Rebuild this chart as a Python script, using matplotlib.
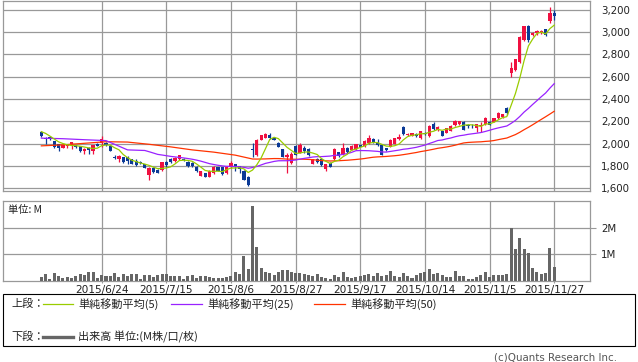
import numpy as np
import pandas as pd
import matplotlib
matplotlib.use("Agg")
import matplotlib.pyplot as plt
from matplotlib.patches import Rectangle
from matplotlib.lines import Line2D

plt.rcParams["font.family"] = ["DejaVu Sans", "Noto Sans CJK JP"]
JP = ["Noto Sans CJK JP", "DejaVu Sans"]

# Trading days (TSE, Jun-Nov 2015)
holidays = ["2015-07-20", "2015-09-21", "2015-09-22", "2015-09-23",
            "2015-10-12", "2015-11-03", "2015-11-23"]
tick_dates = ["2015-06-24", "2015-07-15", "2015-08-06", "2015-08-27",
              "2015-09-17", "2015-10-14", "2015-11-05", "2015-11-27"]

opens = [2105, 2055, 2057, 2025, 1995, 1965, 1978, 1990, 1985, 1976,
         1938, 1962, 1938, 2000, 2006, 2006, 1982, 1880, 1862, 1880,
         1884, 1862, 1850, 1840, 1818, 1720, 1782, 1762, 1762, 1838,
         1866, 1845, 1860, 1865, 1840, 1832, 1788, 1714, 1737, 1706,
         1738, 1790, 1790, 1737, 1795, 1818, 1800, 1760, 1706, 1950,
         1900, 2035, 2055, 2080, 2050, 2010, 1950, 1880, 1828, 1980,
         1920, 1965, 1955, 1822, 1866, 1866, 1771, 1830, 1860, 1925,
         1905, 1965, 1944, 1950, 1985, 1980, 2005, 2042, 2012, 1990,
         1958, 1975, 2000, 2045, 2150, 2075, 2070, 2090, 2050, 2100,
         2065, 2175, 2120, 2110, 2100, 2115, 2168, 2175, 2195, 2165,
         2162, 2138, 2155, 2176, 2197, 2197, 2227, 2236, 2316, 2635,
         2660, 2734, 2927, 3053, 2972, 2987, 2990, 3023, 3100, 3172]
highs = [2110, 2062, 2068, 2028, 2000, 1995, 2000, 2018, 1990, 1980,
         1960, 1975, 1990, 2003, 2065, 2020, 1985, 1895, 1895, 1885,
         1893, 1866, 1860, 1845, 1822, 1790, 1790, 1770, 1840, 1850,
         1870, 1880, 1900, 1870, 1845, 1840, 1800, 1756, 1740, 1765,
         1800, 1795, 1795, 1798, 1845, 1822, 1805, 1765, 1710, 2010,
         2040, 2082, 2095, 2100, 2055, 2015, 1955, 1920, 1930, 1985,
         2010, 1980, 1960, 1866, 1872, 1870, 1820, 1835, 1960, 1930,
         2003, 1968, 1985, 2000, 1990, 2030, 2080, 2050, 2040, 1998,
         1965, 2040, 2055, 2085, 2160, 2095, 2098, 2095, 2115, 2105,
         2165, 2195, 2155, 2115, 2145, 2165, 2215, 2205, 2200, 2175,
         2172, 2178, 2197, 2240, 2205, 2232, 2282, 2270, 2331, 2734,
         2760, 2960, 3055, 3060, 2995, 3015, 3015, 3030, 3225, 3196]
lows = [2062, 2000, 2030, 1965, 1938, 1960, 1965, 1950, 1962, 1928,
        1905, 1908, 1905, 1978, 1975, 1978, 1935, 1860, 1836, 1830,
        1820, 1815, 1805, 1815, 1780, 1672, 1740, 1735, 1758, 1790,
        1825, 1835, 1855, 1850, 1792, 1790, 1745, 1708, 1700, 1700,
        1730, 1755, 1725, 1732, 1785, 1755, 1742, 1675, 1625, 1880,
        1890, 2030, 2050, 2040, 2030, 1970, 1880, 1740, 1820, 1895,
        1915, 1920, 1890, 1815, 1830, 1800, 1756, 1790, 1855, 1885,
        1900, 1920, 1940, 1945, 1970, 1975, 2000, 2005, 1978, 1895,
        1935, 1968, 1995, 2030, 2080, 2068, 2065, 2060, 2045, 2075,
        2060, 2125, 2115, 2065, 2095, 2110, 2160, 2170, 2120, 2145,
        2140, 2108, 2108, 2170, 2165, 2192, 2222, 2232, 2257, 2600,
        2650, 2725, 2920, 2910, 2960, 2975, 2980, 2965, 3076, 3106]
closes = [2065, 2040, 2045, 1975, 1960, 1990, 1985, 2012, 1968, 1932,
          1955, 1948, 1985, 1982, 2045, 1985, 1938, 1870, 1892, 1833,
          1845, 1822, 1810, 1828, 1785, 1786, 1745, 1742, 1838, 1808,
          1835, 1872, 1895, 1855, 1797, 1797, 1755, 1752, 1706, 1760,
          1795, 1760, 1732, 1795, 1832, 1797, 1772, 1680, 1635, 1940,
          2035, 2078, 2090, 2050, 2035, 1975, 1885, 1895, 1912, 1900,
          1990, 1935, 1895, 1862, 1837, 1807, 1816, 1795, 1955, 1890,
          1965, 1926, 1980, 1995, 1975, 2024, 2048, 2018, 1985, 1900,
          1944, 2035, 2048, 2060, 2088, 2090, 2092, 2068, 2110, 2085,
          2160, 2135, 2150, 2070, 2140, 2160, 2205, 2200, 2125, 2158,
          2155, 2174, 2165, 2227, 2168, 2227, 2278, 2266, 2272, 2674,
          2755, 2957, 3053, 2927, 2987, 3011, 3010, 2972, 3166, 3142]
# volume, millions of shares
volumes = [0.15, 0.27, 0.08, 0.31, 0.19, 0.12, 0.15, 0.12, 0.19, 0.27,
           0.23, 0.35, 0.35, 0.12, 0.23, 0.19, 0.19, 0.31, 0.15, 0.27,
           0.19, 0.27, 0.27, 0.08, 0.23, 0.23, 0.15, 0.23, 0.27, 0.27,
           0.19, 0.19, 0.19, 0.08, 0.19, 0.23, 0.12, 0.19, 0.19, 0.15,
           0.12, 0.12, 0.12, 0.15, 0.19, 0.35, 0.27, 0.92, 0.46, 2.80,
           1.27, 0.50, 0.35, 0.31, 0.23, 0.35, 0.42, 0.42, 0.35, 0.31,
           0.31, 0.27, 0.23, 0.19, 0.27, 0.15, 0.12, 0.08, 0.23, 0.15,
           0.35, 0.15, 0.12, 0.15, 0.19, 0.23, 0.27, 0.19, 0.31, 0.19,
           0.23, 0.38, 0.19, 0.15, 0.31, 0.19, 0.12, 0.23, 0.31, 0.35,
           0.46, 0.27, 0.31, 0.23, 0.15, 0.15, 0.38, 0.19, 0.19, 0.08,
           0.08, 0.15, 0.23, 0.35, 0.15, 0.23, 0.23, 0.23, 0.27, 2.00,
           1.19, 1.62, 1.19, 1.04, 0.50, 0.35, 0.27, 0.31, 1.23, 0.54]

# moving-average values before the window is full
ma5_early = [2108, 2092, 2068, 2042]
ma25_early = [2050, 2045, 2036, 2028, 1945]
ma50_early = [1981, 1990, 2004, 2018, 2015, 1995, 1972, 1945, 1925, 1898]

# Colors
C_UP = "#f01040"
C_DOWN = "#0b3a96"
C_MA5 = "#99cc00"
C_MA25 = "#9922ff"
C_MA50 = "#ff3300"
C_VOL = "#666666"
C_GRID = "#999999"

days = pd.bdate_range("2015-06-04", "2015-11-27")
days = days[~days.isin(pd.to_datetime(holidays))]
x = np.arange(len(days))
tick_pos = [days.get_loc(pd.Timestamp(d)) for d in tick_dates]
tick_lbl = [f"{pd.Timestamp(d).year}/{pd.Timestamp(d).month}/{pd.Timestamp(d).day}" for d in tick_dates]

o = np.array(opens, float)
h = np.array(highs, float)
l = np.array(lows, float)
c = np.array(closes, float)
s = pd.Series(c)


def ma_line(win, early):
    comp = s.rolling(win).mean().to_numpy()[win - 1:]
    step = 1 if win == 5 else 5
    xs = list(range(0, len(early) * step, step)) + list(range(win - 1, len(c)))
    ys = list(early) + list(comp)
    return xs, ys


W, H = 638, 362
fig = plt.figure(figsize=(W / 100, H / 100), dpi=100)


def box(left, top, right, bottom):
    return [left / W, 1 - bottom / H, (right - left) / W, (bottom - top) / H]


ax = fig.add_axes(box(3, 1, 590, 190.5))
axv = fig.add_axes(box(3, 201, 590, 281))

# Candles
up = c >= o
cols = np.where(up, C_UP, C_DOWN)
ax.vlines(x, l, h, colors=cols, lw=0.9, zorder=3)
body_lo = np.minimum(o, c)
body_h = np.maximum(np.abs(c - o), 4)
ax.bar(x, body_h, bottom=body_lo, width=0.75, color=cols, lw=0, zorder=3)

# Moving averages
for win, early, col in [(50, ma50_early, C_MA50), (25, ma25_early, C_MA25), (5, ma5_early, C_MA5)]:
    xs, ys = ma_line(win, early)
    ax.plot(xs, ys, color=col, lw=0.9, zorder=4)

ax.set_xlim(-8.9, 127.3)
ax.set_ylim(1582, 3276)
ax.set_yticks(range(1600, 3201, 200))
ax.set_yticklabels([f"{v:,}" for v in range(1600, 3201, 200)])
ax.set_xticks(tick_pos)
ax.set_xticklabels([])
ax.yaxis.tick_right()
ax.tick_params(axis="y", length=0, pad=8, labelsize=7.4, colors="#222222")
ax.tick_params(axis="x", length=0)
ax.grid(True, color=C_GRID, lw=0.9)
ax.set_axisbelow(True)
for sp in ax.spines.values():
    sp.set_color(C_GRID)
    sp.set_linewidth(0.9)

# Volume
axv.bar(x, volumes, width=0.7, color=C_VOL, lw=0, zorder=3)
axv.set_xlim(-8.9, 127.3)
axv.set_ylim(0, 3.0)
axv.set_yticks([1, 2])
axv.set_yticklabels(["1M", "2M"])
axv.yaxis.tick_right()
axv.tick_params(axis="y", length=4.5, pad=3.5, labelsize=7.4, color=C_GRID, labelcolor="#222222")
axv.set_xticks(tick_pos)
axv.set_xticklabels(tick_lbl)
axv.tick_params(axis="x", length=1.5, pad=1.5, labelsize=7.6, color=C_GRID, labelcolor="#222222")
axv.grid(True, color=C_GRID, lw=0.9)
axv.set_axisbelow(True)
for sp in axv.spines.values():
    sp.set_color(C_GRID)
    sp.set_linewidth(0.9)

fig.text(8 / W, 1 - 210 / H, "単位: M", family=JP, fontsize=7.4, va="center", color="#222222")

# Legend box
fig.add_artist(Rectangle((3 / W, 1 - 346 / H), 632 / W, 52 / H, transform=fig.transFigure,
                         fill=False, ec="black", lw=0.8))


def leg_line(x0, x1, y, col, lw):
    fig.add_artist(Line2D([x0 / W, x1 / W], [1 - y / H, 1 - y / H], color=col, lw=lw,
                          transform=fig.transFigure))


def leg_text(x0, y, t):
    fig.text(x0 / W, 1 - y / H, t, family=JP, fontsize=8, va="center", ha="left", color="#222222")


leg_text(11, 304, "上段：")
leg_line(43, 73, 303.5, C_MA5, 0.9)
leg_text(78, 304, "単純移動平均(5)")
leg_line(171, 202, 303.5, C_MA25, 0.9)
leg_text(207, 304, "単純移動平均(25)")
leg_line(314, 345, 303.5, C_MA50, 0.9)
leg_text(350, 304, "単純移動平均(50)")
leg_text(11, 337, "下段：")
leg_line(43, 73, 337, C_VOL, 2.4)
leg_text(78, 337, "出来高 単位:(M株/口/枚)")

fig.text(617 / W, 1 - 357 / H, "(c)Quants Research Inc.", fontsize=7.4, ha="right", va="center",
         color="#555555")

fig.savefig("out.png", dpi=100)
plt.close(fig)
